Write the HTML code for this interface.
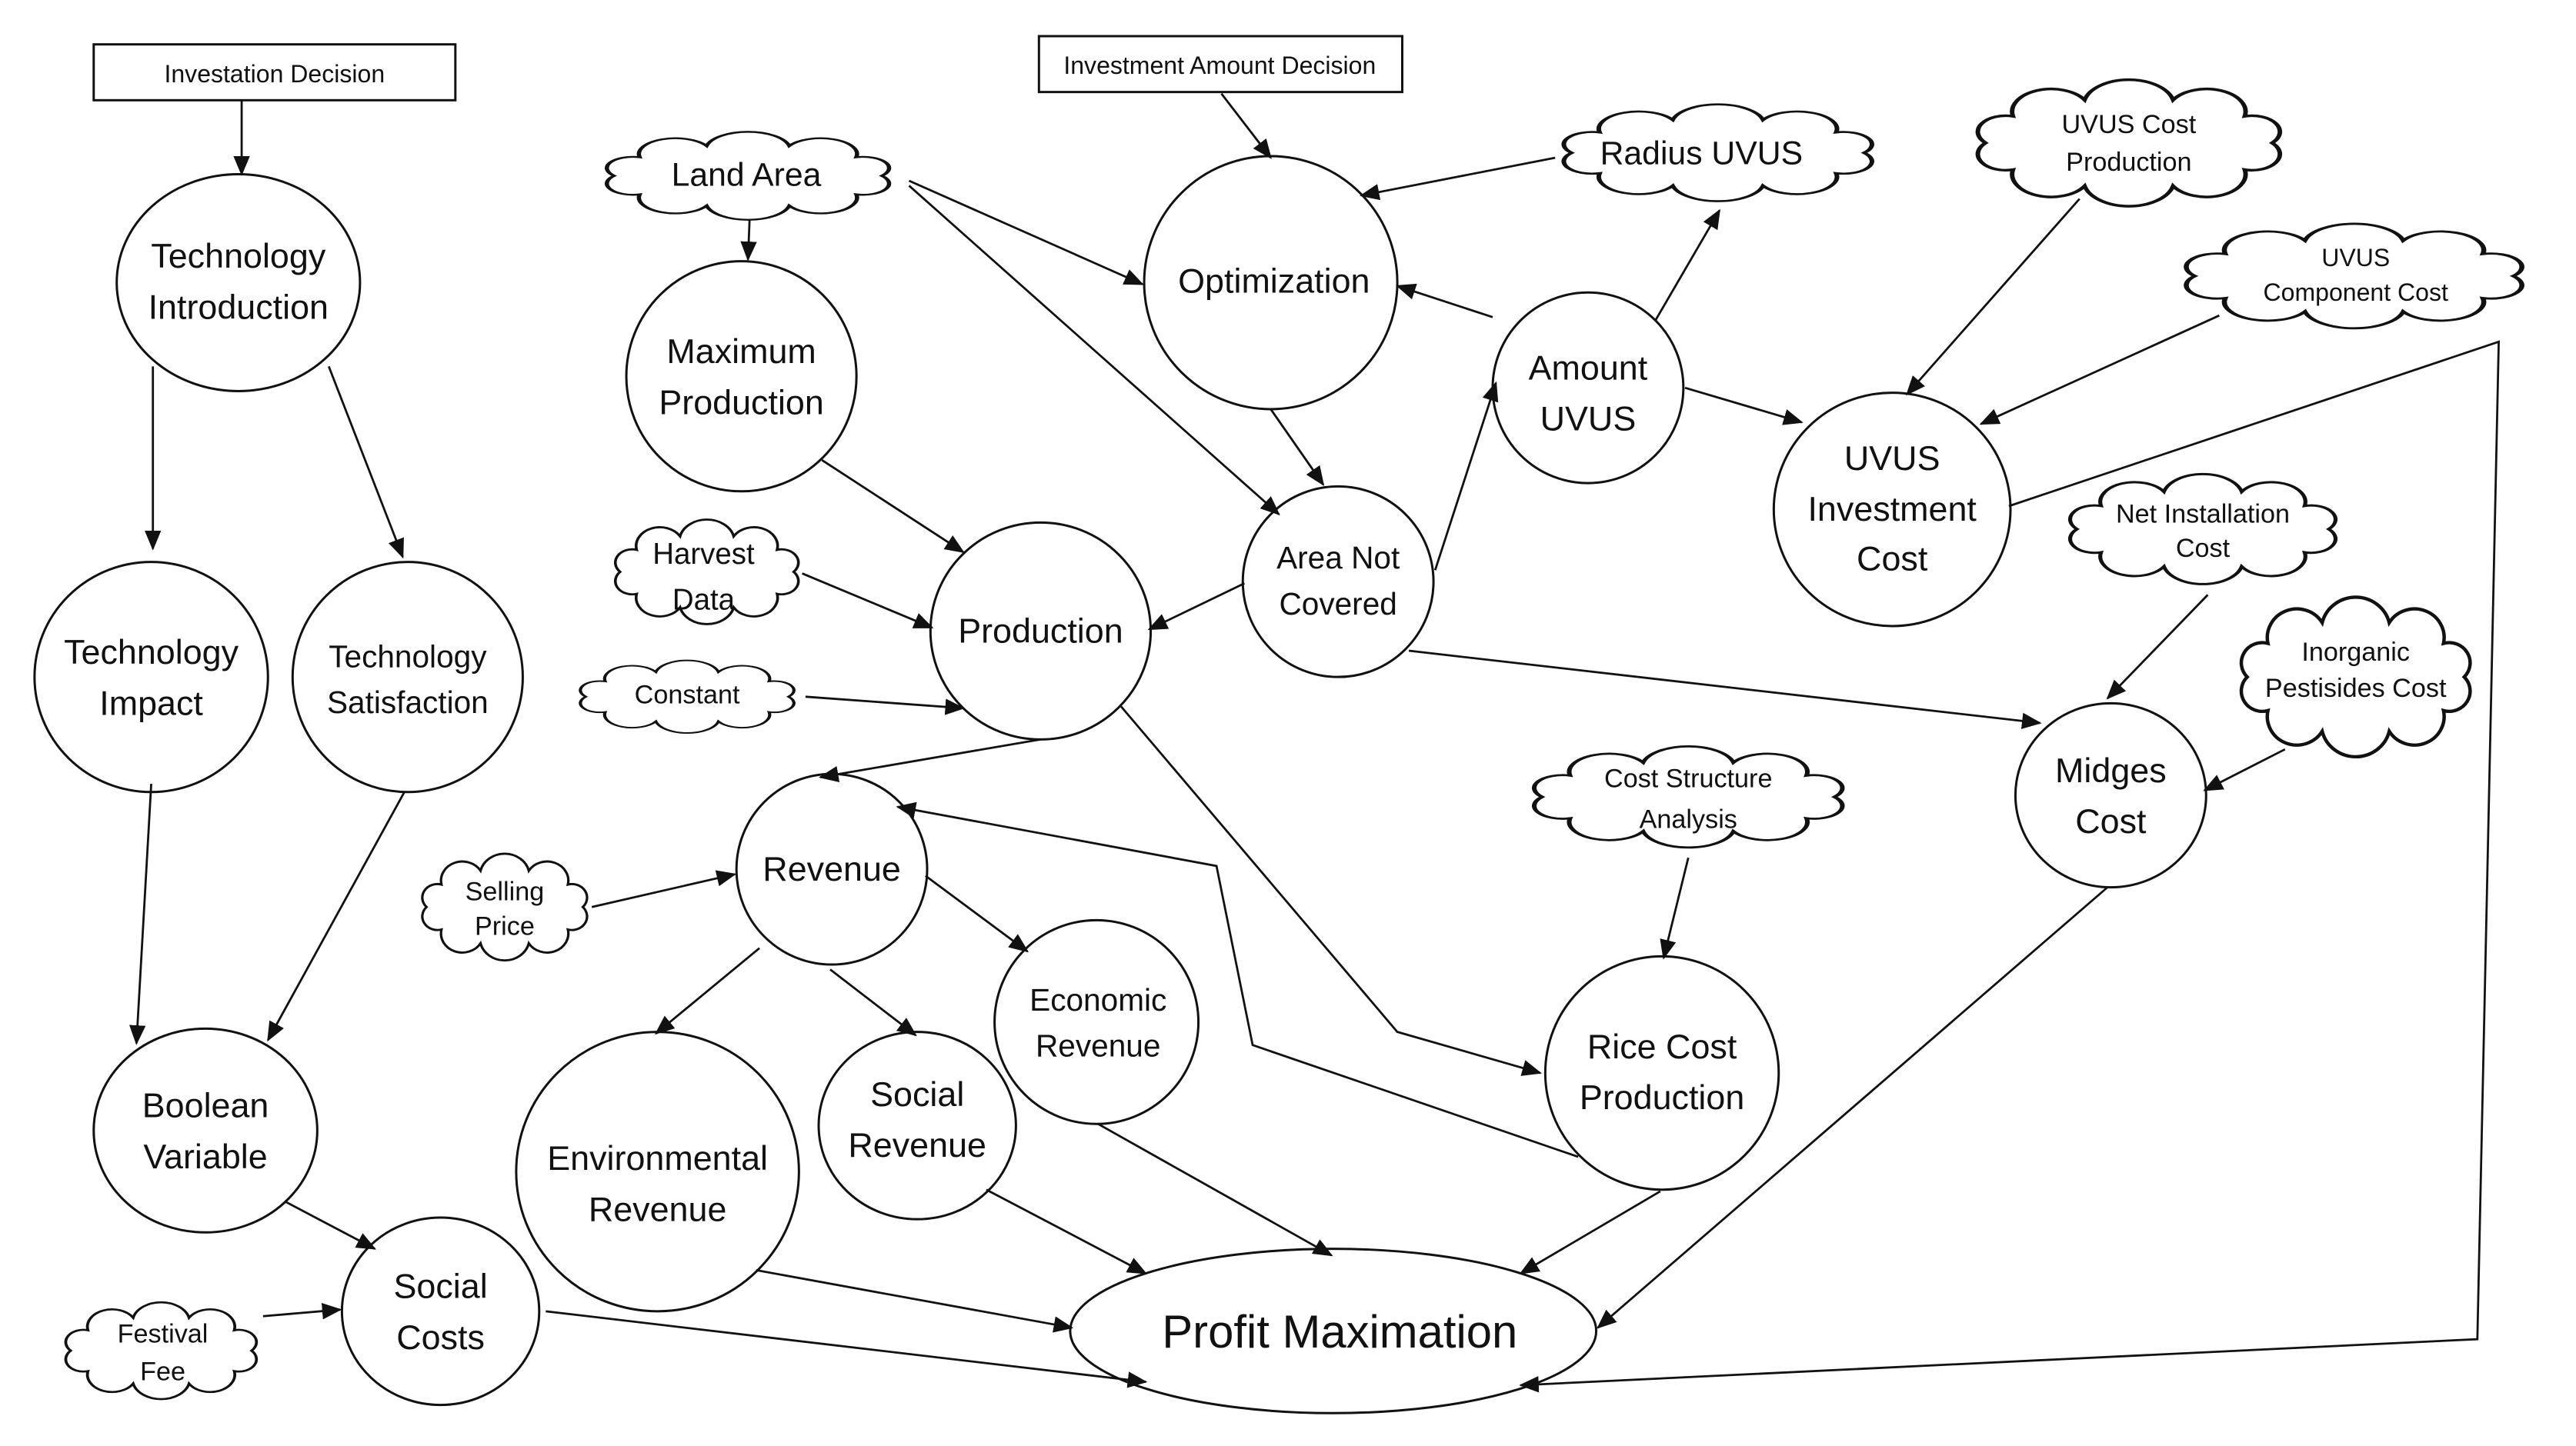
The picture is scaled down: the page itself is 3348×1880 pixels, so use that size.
<!DOCTYPE html>
<html><head><meta charset="utf-8"><style>
html,body{margin:0;padding:0;background:#fff;}
svg{display:block;}
text{font-family:"Liberation Sans",sans-serif;fill:#111;text-anchor:middle;}
.cl{fill:#fff;stroke:#111;stroke-width:1.4;vector-effect:non-scaling-stroke;}
</style></head><body>
<svg width="3348" height="1880" viewBox="0 0 1567 880" preserveAspectRatio="none" xmlns="http://www.w3.org/2000/svg">
<defs>
<marker id="a" markerWidth="12" markerHeight="10" refX="11" refY="5" orient="auto" markerUnits="userSpaceOnUse"><path d="M0,0 L12,5 L0,10 z" fill="#111"/></marker>
<path id="cloud" d="M44,0 A8.5,8.5 0 0 1 35.6,14.1 A12,12 0 0 1 13.6,22.8 A14,14 0 0 1 -13.6,22.8 A12,12 0 0 1 -35.6,14.1 A8.5,8.5 0 0 1 -44,0 A8.5,8.5 0 0 1 -35.6,-14.1 A12,12 0 0 1 -13.6,-22.8 A14,14 0 0 1 13.6,-22.8 A12,12 0 0 1 35.6,-14.1 A8.5,8.5 0 0 1 44,0 Z"/>
</defs>
<g fill="#fff" stroke="#111" stroke-width="1.4">
<rect x="57" y="27" width="220" height="34"/>
<rect x="632" y="22" width="221" height="34"/>
<ellipse cx="145" cy="172" rx="74" ry="66"/>
<ellipse cx="92" cy="412" rx="71" ry="70"/>
<ellipse cx="248" cy="412" rx="70" ry="70"/>
<ellipse cx="125" cy="688" rx="68" ry="62"/>
<ellipse cx="268" cy="798" rx="60" ry="57"/>
<ellipse cx="451" cy="229" rx="70" ry="70"/>
<ellipse cx="633" cy="384" rx="67" ry="66"/>
<ellipse cx="773" cy="172" rx="77" ry="77"/>
<ellipse cx="814" cy="354" rx="58" ry="58"/>
<ellipse cx="966" cy="236" rx="58" ry="58"/>
<ellipse cx="1151" cy="310" rx="72" ry="71"/>
<ellipse cx="1284" cy="484" rx="58" ry="56"/>
<ellipse cx="1011" cy="653" rx="71" ry="71"/>
<ellipse cx="506" cy="529" rx="58" ry="58"/>
<ellipse cx="667" cy="622" rx="62" ry="62"/>
<ellipse cx="558" cy="685" rx="60" ry="57"/>
<ellipse cx="400" cy="713" rx="86" ry="85"/>
<ellipse cx="811" cy="810" rx="160" ry="50"/>
</g>
<g stroke="#111" stroke-width="1.3" fill="none" marker-end="url(#a)">
<line x1="147" y1="61" x2="147" y2="106"/>
<line x1="93" y1="223" x2="93" y2="334"/>
<line x1="200" y1="223" x2="245" y2="339"/>
<line x1="92" y1="477" x2="83" y2="635"/>
<line x1="246" y1="482" x2="163" y2="633"/>
<line x1="173" y1="731" x2="228" y2="760"/>
<line x1="160" y1="801" x2="207" y2="797"/>
<line x1="332" y1="798" x2="697" y2="841"/>
<line x1="456" y1="133" x2="455" y2="158"/>
<line x1="553" y1="110" x2="695" y2="173"/>
<line x1="553" y1="113" x2="778" y2="313"/>
<line x1="743" y1="57" x2="773" y2="96"/>
<line x1="946" y1="96" x2="828" y2="119"/>
<line x1="1007" y1="195" x2="1046" y2="128"/>
<line x1="908" y1="193" x2="850" y2="174"/>
<line x1="773" y1="249" x2="805" y2="295"/>
<line x1="873" y1="347" x2="910" y2="233"/>
<line x1="757" y1="355" x2="699" y2="383"/>
<line x1="857" y1="396" x2="1241" y2="440"/>
<line x1="500" y1="280" x2="586" y2="336"/>
<line x1="488" y1="349" x2="567" y2="382"/>
<line x1="490" y1="424" x2="586" y2="431"/>
<line x1="1025" y1="236" x2="1096" y2="257"/>
<line x1="1265" y1="121" x2="1160" y2="240"/>
<line x1="1350" y1="192" x2="1205" y2="258"/>
<polyline points="1222,308 1520,208 1507,815 925,843"/>
<line x1="1343" y1="362" x2="1282" y2="425"/>
<line x1="1390" y1="456" x2="1341" y2="481"/>
<line x1="1282" y1="540" x2="972" y2="808"/>
<line x1="633" y1="450" x2="499" y2="473"/>
<polyline points="682,430 850,628 937,653"/>
<line x1="1027" y1="522" x2="1012" y2="583"/>
<polyline points="960,704 762,636 740,527 546,491"/>
<line x1="1010" y1="725" x2="925" y2="775"/>
<line x1="360" y1="552" x2="447" y2="532"/>
<line x1="563" y1="533" x2="625" y2="579"/>
<line x1="462" y1="577" x2="399" y2="629"/>
<line x1="505" y1="590" x2="557" y2="630"/>
<line x1="668" y1="684" x2="810" y2="764"/>
<line x1="600" y1="724" x2="697" y2="775"/>
<line x1="460" y1="773" x2="652" y2="808"/>
</g>
<g>
<use href="#cloud" class="cl" transform="translate(455,107) scale(1.85,0.80)"/>
<use href="#cloud" class="cl" transform="translate(1045,93) scale(2.02,0.88)"/>
<use href="#cloud" class="cl" transform="translate(1295,87) scale(1.98,1.15)"/>
<use href="#cloud" class="cl" transform="translate(1432,168) scale(2.2,0.95)"/>
<use href="#cloud" class="cl" transform="translate(1340,322) scale(1.74,1.0)"/>
<use href="#cloud" class="cl" transform="translate(1433,412) scale(1.5,1.45)"/>
<use href="#cloud" class="cl" transform="translate(1027,485) scale(2.02,0.92)"/>
<use href="#cloud" class="cl" transform="translate(430,348) scale(1.2,0.95)"/>
<use href="#cloud" class="cl" transform="translate(418,424) scale(1.4,0.66)"/>
<use href="#cloud" class="cl" transform="translate(307,552) scale(1.08,0.97)"/>
<use href="#cloud" class="cl" transform="translate(98,822) scale(1.25,0.88)"/>
</g>
<g font-size="15">
<text x="167" y="50">Investation Decision</text>
<text x="742" y="45">Investment Amount Decision</text>
</g>
<g font-size="21">
<text x="145" y="163">Technology</text><text x="145" y="194">Introduction</text>
<text x="92" y="404">Technology</text><text x="92" y="435">Impact</text>
<text x="248" y="406" font-size="19">Technology</text><text x="248" y="434" font-size="19">Satisfaction</text>
<text x="125" y="680">Boolean</text><text x="125" y="711">Variable</text>
<text x="268" y="790">Social</text><text x="268" y="821">Costs</text>
<text x="451" y="221">Maximum</text><text x="451" y="252">Production</text>
<text x="633" y="391">Production</text>
<text x="775" y="178">Optimization</text>
<text x="814" y="346" font-size="19">Area Not</text><text x="814" y="374" font-size="19">Covered</text>
<text x="966" y="231">Amount</text><text x="966" y="262">UVUS</text>
<text x="1151" y="286">UVUS</text><text x="1151" y="317">Investment</text><text x="1151" y="347">Cost</text>
<text x="1284" y="476">Midges</text><text x="1284" y="507">Cost</text>
<text x="1011" y="644">Rice Cost</text><text x="1011" y="675">Production</text>
<text x="506" y="536">Revenue</text>
<text x="668" y="615" font-size="19">Economic</text><text x="668" y="643" font-size="19">Revenue</text>
<text x="558" y="673">Social</text><text x="558" y="704">Revenue</text>
<text x="400" y="712">Environmental</text><text x="400" y="743">Revenue</text>
<text x="815" y="820" font-size="28">Profit Maximation</text>
</g>
<g font-size="16">
<text x="454" y="113" font-size="20">Land Area</text>
<text x="1035" y="100" font-size="20">Radius UVUS</text>
<text x="1295" y="81">UVUS Cost</text><text x="1295" y="104">Production</text>
<text x="1433" y="162" font-size="15">UVUS</text><text x="1433" y="183" font-size="15">Component Cost</text>
<text x="1340" y="318">Net Installation</text><text x="1340" y="339">Cost</text>
<text x="1433" y="402">Inorganic</text><text x="1433" y="424">Pestisides Cost</text>
<text x="1027" y="479">Cost Structure</text><text x="1027" y="504">Analysis</text>
<text x="428" y="343" font-size="18">Harvest</text><text x="428" y="371" font-size="18">Data</text>
<text x="418" y="428">Constant</text>
<text x="307" y="548">Selling</text><text x="307" y="569">Price</text>
<text x="99" y="817">Festival</text><text x="99" y="840">Fee</text>
</g>
</svg>
</body></html>
